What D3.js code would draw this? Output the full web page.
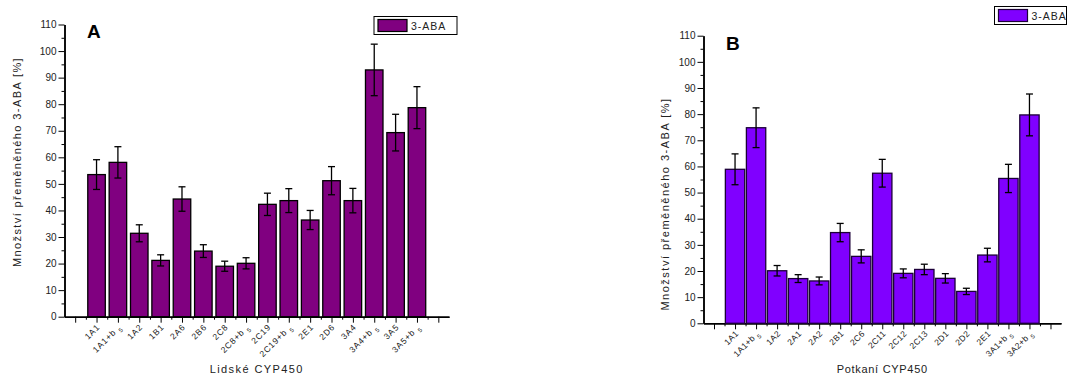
<!DOCTYPE html>
<html lang="cs">
  <head>
    <meta charset="UTF-8" />
    <title>3-ABA</title>
    <script src="https://d3js.org/d3.v7.min.js"></script>
    <style>
      * {
        margin: 0;
        padding: 0;
      }

      body {
        background: #fff;
      }

      text {
        font-family: "Liberation Sans", Arial, sans-serif;
      }

      .axis .tick text {
        font-size: 10px;
        fill: #222;
      }

      .axis path,
      .axis line {
        stroke: #000;
      }

      .axis path {
        stroke-width: 1.5;
      }
    </style>
  </head>

  <body></body>

  <script>
    let w = 1069;
    let h = 376;

    // human CYP450 (panel A)
    let humanLabels = ["1A1", "1A1+b5", "1A2", "1B1", "2A6", "2B6", "2C8", "2C8+b5",
      "2C19", "2C19+b5", "2E1", "2D6", "3A4", "3A4+b5", "3A5", "3A5+b5"];
    let humanValues = [53.5, 58.1, 31.4, 21.2, 44.3, 24.7, 19.0, 20.1,
      42.3, 43.7, 36.4, 51.2, 43.7, 92.9, 69.3, 78.7];
    let humanErrors = [5.6, 5.9, 3.2, 2.1, 4.6, 2.4, 1.9, 2.1,
      4.2, 4.5, 3.6, 5.3, 4.6, 9.7, 6.9, 7.9];

    // rat CYP450 (panel B)
    let ratLabels = ["1A1", "1A1+b5", "1A2", "2A1", "2A2", "2B1", "2C6", "2C11",
      "2C12", "2C13", "2D1", "2D2", "2E1", "3A1+b5", "3A2+b5"];
    let ratValues = [58.9, 74.8, 20.1, 17.1, 16.2, 34.7, 25.6, 57.4,
      19.1, 20.6, 17.2, 12.2, 26.1, 55.4, 79.7];
    let ratErrors = [5.9, 7.6, 2.0, 1.5, 1.5, 3.5, 2.5, 5.3,
      1.7, 2.0, 1.8, 1.2, 2.6, 5.4, 8.0];

    let yTicks = d3.range(0, 111, 10);
    let yMinor = d3.range(5, 110, 10);
    let seriesName = "3-ABA";
    let yTitle = "Množství přeměněného 3-ABA [%]";

    let svg = d3
      .select("body")
      .append("svg")
      .attr("width", w)
      .attr("height", h);

    function drawPanel(opt) {
      let n = opt.labels.length;
      let g = svg.append("g");

      let x = d3
        .scaleLinear()
        .domain([-0.5, n + 1.5])
        .range([opt.left, opt.right]);
      let y = d3.scaleLinear().domain([0, 110]).range([opt.bottom, opt.top]);
      let bw = (x(1) - x(0)) * opt.barRatio;

      // 坐标轴
      g.append("g")
        .attr("class", "axis")
        .attr("transform", "translate(0," + opt.bottom + ")")
        .call(d3.axisBottom(x).tickValues(d3.range(0.5, n + 1, 1)).tickSize(3).tickSizeOuter(0).tickFormat(""));
      g.append("g")
        .attr("class", "axis")
        .attr("transform", "translate(0," + opt.bottom + ")")
        .call(d3.axisBottom(x).tickValues(d3.range(0, n + 2, 1)).tickSize(6).tickSizeOuter(0).tickFormat(""));
      g.append("g")
        .attr("class", "axis")
        .attr("transform", "translate(" + opt.left + ",0)")
        .call(d3.axisLeft(y).tickValues(yMinor).tickSize(3).tickSizeOuter(0).tickFormat(""));
      g.append("g")
        .attr("class", "axis")
        .attr("transform", "translate(" + opt.left + ",0)")
        .call(d3.axisLeft(y).tickValues(yTicks).tickSize(6).tickSizeOuter(0).tickPadding(2));

      // 柱子
      g.append("g")
        .selectAll("rect")
        .data(opt.values)
        .enter()
        .append("rect")
        .attr("x", (d, i) => x(i + 1) - bw / 2)
        .attr("y", (d) => y(d))
        .attr("width", bw)
        .attr("height", (d) => y(0) - y(d))
        .attr("fill", opt.fill)
        .attr("stroke", opt.stroke)
        .attr("stroke-width", 1.3);

      // 误差线
      let eb = g
        .append("g")
        .selectAll("g")
        .data(opt.values)
        .enter()
        .append("g")
        .attr("stroke", "#000")
        .attr("stroke-width", 1.3);
      eb.append("line")
        .attr("x1", (d, i) => x(i + 1))
        .attr("x2", (d, i) => x(i + 1))
        .attr("y1", (d, i) => y(d + opt.errors[i]))
        .attr("y2", (d, i) => y(d - opt.errors[i]));
      eb.append("line")
        .attr("x1", (d, i) => x(i + 1) - 3.5)
        .attr("x2", (d, i) => x(i + 1) + 3.5)
        .attr("y1", (d, i) => y(d + opt.errors[i]))
        .attr("y2", (d, i) => y(d + opt.errors[i]));
      eb.append("line")
        .attr("x1", (d, i) => x(i + 1) - 3.5)
        .attr("x2", (d, i) => x(i + 1) + 3.5)
        .attr("y1", (d, i) => y(d - opt.errors[i]))
        .attr("y2", (d, i) => y(d - opt.errors[i]));

      // 类别标签 (b5 -> 下标), 斜 45 度
      let lab = g
        .append("g")
        .selectAll("text")
        .data(opt.labels)
        .enter()
        .append("text")
        .attr("x", (d, i) => x(i + 1) + 4)
        .attr("y", opt.bottom + 11)
        .attr("transform", (d, i) => "rotate(-45 " + (x(i + 1) + 4) + " " + (opt.bottom + 11) + ")")
        .attr("text-anchor", "end")
        .attr("font-size", 8.5)
        .attr("letter-spacing", opt.labLs)
        .attr("fill", "#222");
      lab.each(function (d) {
        let t = d3.select(this);
        if (d.endsWith("b5")) {
          t.append("tspan").text(d.slice(0, -1) + " ");
          t.append("tspan").attr("font-size", 6).attr("baseline-shift", "sub").text("5");
        } else {
          t.text(d);
        }
      });

      // 轴标题
      g.append("text")
        .attr("x", (opt.left + opt.right) / 2)
        .attr("y", opt.xTitleY)
        .attr("text-anchor", "middle")
        .attr("font-size", 11)
        .attr("letter-spacing", opt.ls)
        .attr("fill", "#222")
        .text(opt.xTitle);
      g.append("text")
        .attr("transform", "translate(" + opt.yTitleX + "," + opt.yTitleY + ") rotate(-90)")
        .attr("text-anchor", "middle")
        .attr("font-size", 11)
        .attr("letter-spacing", opt.yls)
        .attr("fill", "#222")
        .text(yTitle);

      // 面板字母
      g.append("text")
        .attr("x", opt.letterX)
        .attr("y", opt.letterY)
        .attr("font-size", 19)
        .attr("font-weight", "bold")
        .text(opt.letter);

      // 图例
      let lg = g.append("g").attr("transform", "translate(" + opt.legendX + "," + opt.legendY + ")");
      lg.append("rect")
        .attr("width", opt.legendW)
        .attr("height", 18)
        .attr("fill", "#fff")
        .attr("stroke", "#000")
        .attr("stroke-width", 1);
      lg.append("rect")
        .attr("x", 4)
        .attr("y", 3)
        .attr("width", 29)
        .attr("height", 12)
        .attr("fill", opt.fill)
        .attr("stroke", opt.stroke)
        .attr("stroke-width", 1.2);
      lg.append("text")
        .attr("x", 37)
        .attr("y", 13.5)
        .attr("font-size", 10.5)
        .attr("letter-spacing", 1)
        .attr("fill", "#222")
        .text(seriesName);
    }

    drawPanel({
      labels: humanLabels,
      values: humanValues,
      errors: humanErrors,
      left: 64.5,
      right: 449,
      top: 24.5,
      bottom: 316.7,
      barRatio: 0.82,
      fill: "#800080",
      stroke: "#000",
      ls: 1.4,
      labLs: 0.8,
      yls: 1.4,
      xTitle: "Lidské CYP450",
      xTitleY: 373,
      yTitleX: 21,
      yTitleY: 162,
      letter: "A",
      letterX: 87,
      letterY: 38,
      legendX: 374,
      legendY: 16.5,
      legendW: 83,
    });

    drawPanel({
      labels: ratLabels,
      values: ratValues,
      errors: ratErrors,
      left: 703.5,
      right: 1061,
      top: 35.7,
      bottom: 323.3,
      barRatio: 0.92,
      fill: "#8000ff",
      stroke: "#1c0038",
      ls: 0.7,
      labLs: 0.3,
      yls: 1.5,
      xTitle: "Potkaní CYP450",
      xTitleY: 373,
      yTitleX: 669,
      yTitleY: 204,
      letter: "B",
      letterX: 726,
      letterY: 50,
      legendX: 994.5,
      legendY: 6.5,
      legendW: 72,
    });
  </script>
</html>
